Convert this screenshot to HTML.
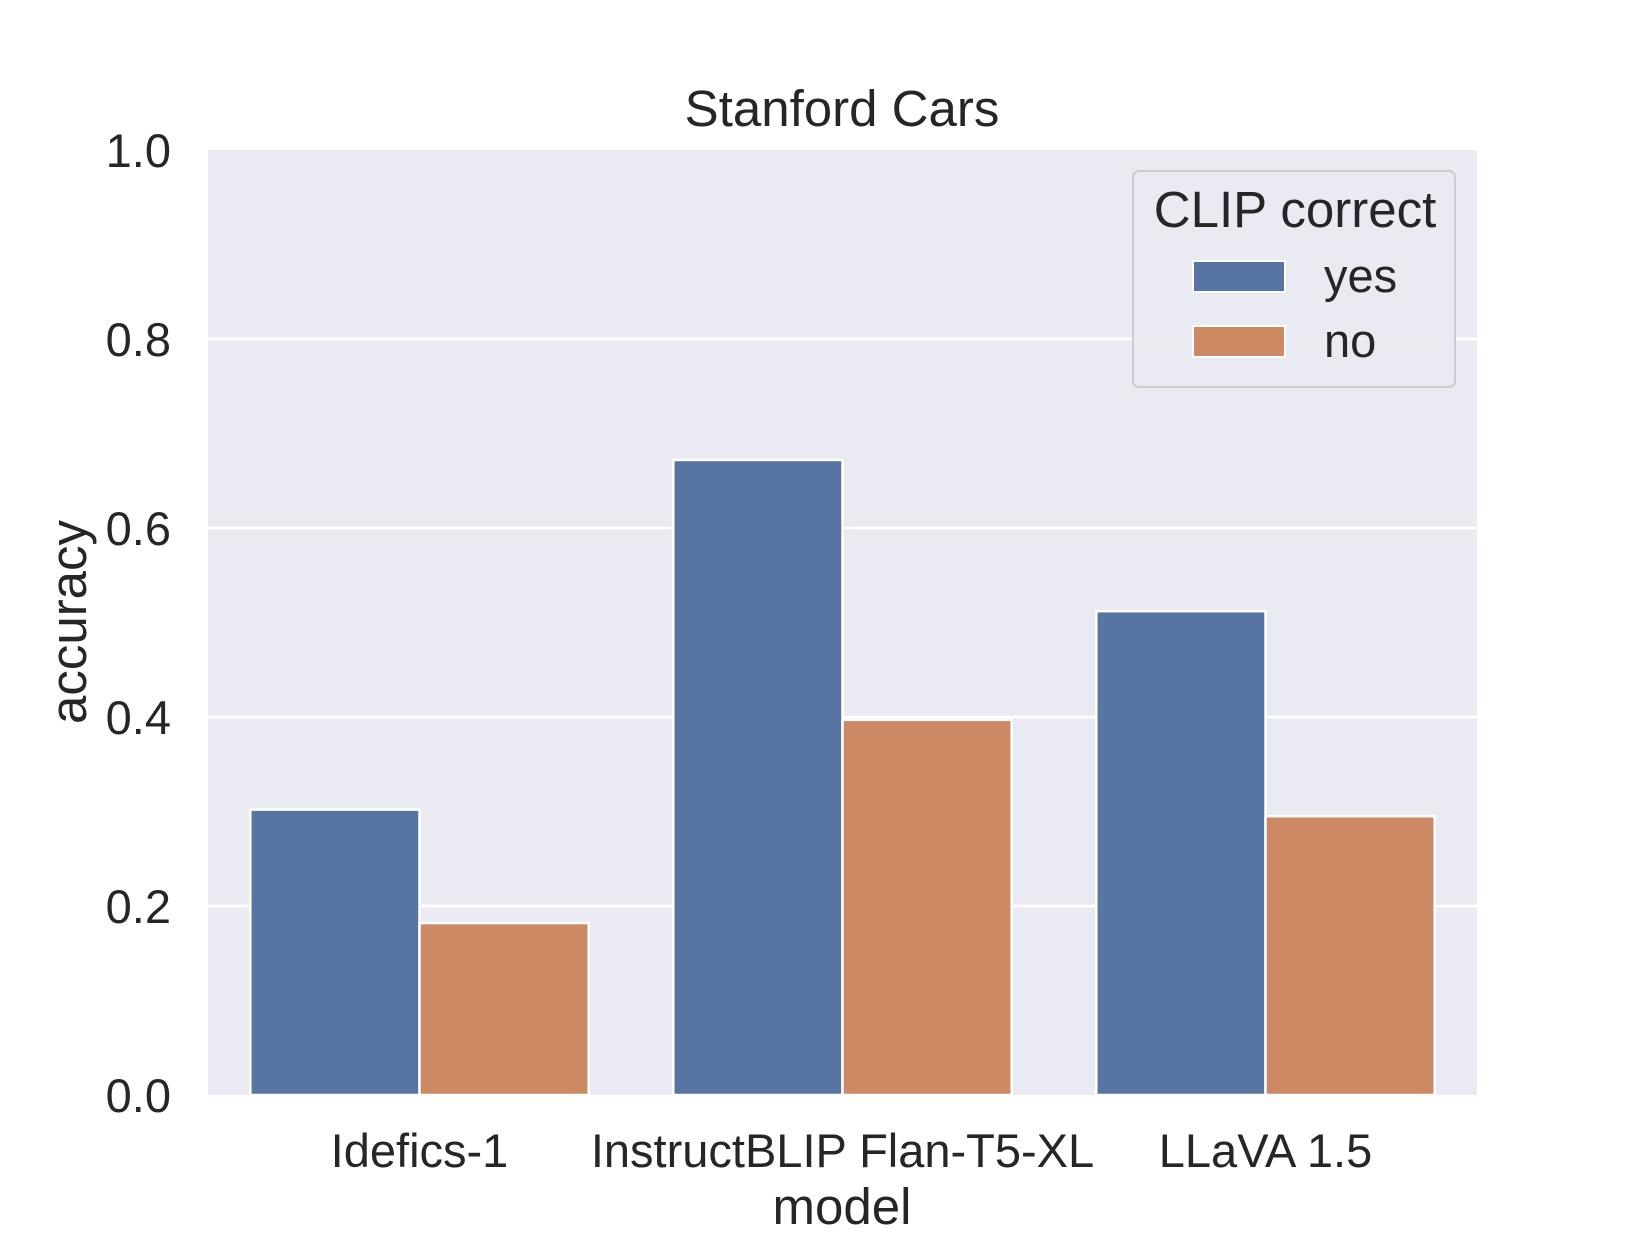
<!DOCTYPE html>
<html><head><meta charset="utf-8"><style>
body{margin:0;background:#fff;}
svg text{font-family:"Liberation Sans",Arial,sans-serif;fill:#262626;}
</style></head><body>
<svg id="chart" width="1643" height="1233" xmlns="http://www.w3.org/2000/svg">
<rect x="208" y="150" width="1269" height="945" fill="#eaeaf2"/>
<g id="grid"></g>
<g id="bars"></g>
<g id="ticks"></g>
<text x="842" y="126" font-size="51" text-anchor="middle">Stanford Cars</text>
<text transform="translate(86,622) rotate(-90)" font-size="51" text-anchor="middle">accuracy</text>
<text x="842" y="1224" font-size="51" text-anchor="middle">model</text>
<g>
<rect x="1133" y="171" width="322" height="216" rx="6" fill="#eaeaf2" fill-opacity="0.8" stroke="#cccccc" stroke-width="2"/>
<text x="1295" y="227" font-size="51" text-anchor="middle">CLIP correct</text>
<rect x="1193" y="261" width="92" height="31" fill="#5874a3" stroke="#fff" stroke-width="2"/>
<text x="1324" y="292" font-size="47">yes</text>
<rect x="1193" y="326" width="92" height="31" fill="#cc8963" stroke="#fff" stroke-width="2"/>
<text x="1324" y="357" font-size="47">no</text>
</g>
</svg>
<script>
const categories=["Idefics-1","InstructBLIP Flan-T5-XL","LLaVA 1.5"];
const yesValues=[0.302,0.672,0.512];
const noValues=[0.182,0.397,0.295];
const yTicks=[0.0,0.2,0.4,0.6,0.8,1.0];
const yTickLabels=["0.0","0.2","0.4","0.6","0.8","1.0"];
const NS="http://www.w3.org/2000/svg";
const L=208,R=1477,T=150,B=1095;
const y=v=>B-(v/1.0)*(B-T);
const catW=(R-L)/categories.length;
const xc=i=>L+catW*(i+0.5);
const bw=catW*0.8/2;
function mk(tag,attrs,parent){const e=document.createElementNS(NS,tag);for(const k in attrs)e.setAttribute(k,attrs[k]);document.getElementById(parent).appendChild(e);return e;}
yTicks.forEach((t,i)=>{
 if(t>0&&t<1){const g=mk('line',{x1:L,x2:R,y1:y(t),y2:y(t),stroke:'#fff','stroke-width':2.5},'grid');
 
 }
 const tx=mk('text',{x:171,y:y(t)+17,'font-size':47,'text-anchor':'end'},'ticks');tx.textContent=yTickLabels[i];
 
 
});
categories.forEach((c,i)=>{
 const b1=mk('rect',{x:xc(i)-bw,y:y(yesValues[i]),width:bw,height:B-y(yesValues[i]),fill:'#5874a3',stroke:'#fff','stroke-width':2.5},'bars');
 
 
 const b2=mk('rect',{x:xc(i),y:y(noValues[i]),width:bw,height:B-y(noValues[i]),fill:'#cc8963',stroke:'#fff','stroke-width':2.5},'bars');
 
 
 const tx=mk('text',{x:xc(i),y:1167,'font-size':47,'text-anchor':'middle'},'ticks');tx.textContent=c;
 
 
});
</script>
</body></html>
